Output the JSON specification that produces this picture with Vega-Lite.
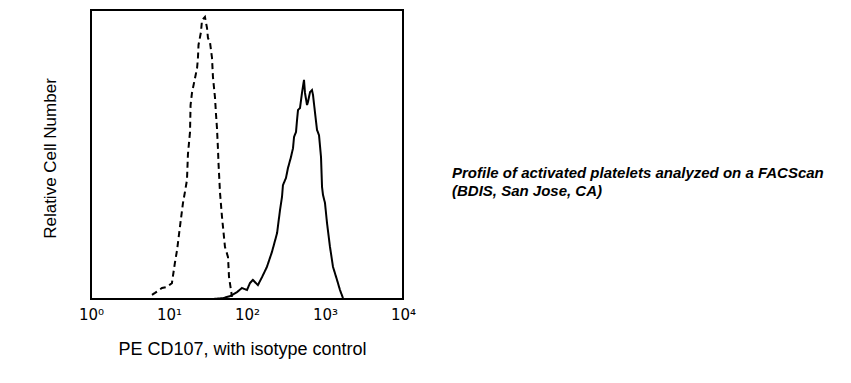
{
  "$schema": "https://vega.github.io/schema/vega-lite/v6.json",
  "width": 312,
  "height": 289,
  "autosize": "none",
  "padding": {"left": 91, "top": 10, "right": 448, "bottom": 84},
  "background": "white",
  "config": {"view": {"stroke": "black", "strokeWidth": 2}, "font": "Liberation Sans"},
  "title": {
    "text": ["Profile of activated platelets analyzed on a FACScan", "(BDIS, San Jose, CA)"],
    "anchor": "start",
    "frame": "group",
    "orient": "top",
    "font": "Liberation Sans",
    "fontSize": 15,
    "fontStyle": "italic",
    "fontWeight": "bold",
    "color": "black",
    "baseline": "top",
    "lineHeight": 18,
    "offset": 0,
    "dx": 361,
    "dy": 189
  },
  "data": {
    "values": [
      {"s": "isotype", "i": 1, "x": 6.05, "y": 1.4},
      {"s": "isotype", "i": 2, "x": 6.62, "y": 2.1},
      {"s": "isotype", "i": 3, "x": 8.13, "y": 3.8},
      {"s": "isotype", "i": 4, "x": 9.43, "y": 4.2},
      {"s": "isotype", "i": 5, "x": 10.9, "y": 5.5},
      {"s": "isotype", "i": 6, "x": 11.9, "y": 12.5},
      {"s": "isotype", "i": 7, "x": 12.7, "y": 17.0},
      {"s": "isotype", "i": 8, "x": 13.8, "y": 24.9},
      {"s": "isotype", "i": 9, "x": 15.1, "y": 33.2},
      {"s": "isotype", "i": 10, "x": 16.0, "y": 37.0},
      {"s": "isotype", "i": 11, "x": 17.0, "y": 41.2},
      {"s": "isotype", "i": 12, "x": 17.5, "y": 50.2},
      {"s": "isotype", "i": 13, "x": 18.6, "y": 57.8},
      {"s": "isotype", "i": 14, "x": 18.9, "y": 67.1},
      {"s": "isotype", "i": 15, "x": 19.7, "y": 71.3},
      {"s": "isotype", "i": 16, "x": 20.9, "y": 74.7},
      {"s": "isotype", "i": 17, "x": 22.9, "y": 79.9},
      {"s": "isotype", "i": 18, "x": 23.5, "y": 83.4},
      {"s": "isotype", "i": 19, "x": 23.9, "y": 87.9},
      {"s": "isotype", "i": 20, "x": 25.7, "y": 92.4},
      {"s": "isotype", "i": 21, "x": 26.5, "y": 96.5},
      {"s": "isotype", "i": 22, "x": 28.9, "y": 97.6},
      {"s": "isotype", "i": 23, "x": 30.7, "y": 93.8},
      {"s": "isotype", "i": 24, "x": 31.6, "y": 90.3},
      {"s": "isotype", "i": 25, "x": 33.5, "y": 88.9},
      {"s": "isotype", "i": 26, "x": 35.6, "y": 83.4},
      {"s": "isotype", "i": 27, "x": 36.6, "y": 76.8},
      {"s": "isotype", "i": 28, "x": 38.9, "y": 69.6},
      {"s": "isotype", "i": 29, "x": 40.1, "y": 63.7},
      {"s": "isotype", "i": 30, "x": 41.2, "y": 59.2},
      {"s": "isotype", "i": 31, "x": 42.5, "y": 51.6},
      {"s": "isotype", "i": 32, "x": 43.1, "y": 47.1},
      {"s": "isotype", "i": 33, "x": 45.1, "y": 36.7},
      {"s": "isotype", "i": 34, "x": 47.8, "y": 28.4},
      {"s": "isotype", "i": 35, "x": 52.2, "y": 18.0},
      {"s": "isotype", "i": 36, "x": 57.1, "y": 14.5},
      {"s": "isotype", "i": 37, "x": 58.8, "y": 7.6},
      {"s": "isotype", "i": 38, "x": 62.3, "y": 3.1},
      {"s": "isotype", "i": 39, "x": 64.2, "y": 0.7},
      {"s": "CD107", "i": 1, "x": 36.6, "y": 0},
      {"s": "CD107", "i": 2, "x": 49.2, "y": 0.3},
      {"s": "CD107", "i": 3, "x": 60.5, "y": 1.0},
      {"s": "CD107", "i": 4, "x": 74.5, "y": 2.4},
      {"s": "CD107", "i": 5, "x": 86.3, "y": 3.8},
      {"s": "CD107", "i": 6, "x": 100, "y": 3.1},
      {"s": "CD107", "i": 7, "x": 109, "y": 5.5},
      {"s": "CD107", "i": 8, "x": 119, "y": 6.6},
      {"s": "CD107", "i": 9, "x": 138, "y": 4.8},
      {"s": "CD107", "i": 10, "x": 156, "y": 7.6},
      {"s": "CD107", "i": 11, "x": 180, "y": 11.1},
      {"s": "CD107", "i": 12, "x": 209, "y": 16.3},
      {"s": "CD107", "i": 13, "x": 243, "y": 22.8},
      {"s": "CD107", "i": 14, "x": 265, "y": 30.8},
      {"s": "CD107", "i": 15, "x": 281, "y": 35.3},
      {"s": "CD107", "i": 16, "x": 289, "y": 39.4},
      {"s": "CD107", "i": 17, "x": 316, "y": 41.9},
      {"s": "CD107", "i": 18, "x": 335, "y": 45.3},
      {"s": "CD107", "i": 19, "x": 366, "y": 49.1},
      {"s": "CD107", "i": 20, "x": 389, "y": 52.2},
      {"s": "CD107", "i": 21, "x": 401, "y": 56.1},
      {"s": "CD107", "i": 22, "x": 425, "y": 57.8},
      {"s": "CD107", "i": 23, "x": 438, "y": 61.9},
      {"s": "CD107", "i": 24, "x": 451, "y": 65.4},
      {"s": "CD107", "i": 25, "x": 478, "y": 66.1},
      {"s": "CD107", "i": 26, "x": 507, "y": 71.3},
      {"s": "CD107", "i": 27, "x": 538, "y": 75.8},
      {"s": "CD107", "i": 28, "x": 554, "y": 71.3},
      {"s": "CD107", "i": 29, "x": 588, "y": 67.1},
      {"s": "CD107", "i": 30, "x": 605, "y": 68.2},
      {"s": "CD107", "i": 31, "x": 643, "y": 71.6},
      {"s": "CD107", "i": 32, "x": 681, "y": 72.3},
      {"s": "CD107", "i": 33, "x": 702, "y": 70.6},
      {"s": "CD107", "i": 34, "x": 745, "y": 64.4},
      {"s": "CD107", "i": 35, "x": 790, "y": 58.5},
      {"s": "CD107", "i": 36, "x": 838, "y": 56.7},
      {"s": "CD107", "i": 37, "x": 889, "y": 49.1},
      {"s": "CD107", "i": 38, "x": 916, "y": 38.8},
      {"s": "CD107", "i": 39, "x": 943, "y": 36.0},
      {"s": "CD107", "i": 40, "x": 1000, "y": 33.2},
      {"s": "CD107", "i": 41, "x": 1061, "y": 26.3},
      {"s": "CD107", "i": 42, "x": 1159, "y": 18.0},
      {"s": "CD107", "i": 43, "x": 1267, "y": 11.1},
      {"s": "CD107", "i": 44, "x": 1426, "y": 6.6},
      {"s": "CD107", "i": 45, "x": 1556, "y": 3.1},
      {"s": "CD107", "i": 46, "x": 1702, "y": 0.3}
    ]
  },
  "mark": {"type": "line", "color": "black", "strokeWidth": 2, "clip": true},
  "encoding": {
    "x": {
      "field": "x",
      "type": "quantitative",
      "scale": {"type": "log", "domain": [1, 10000], "nice": false},
      "axis": {
        "values": [1, 10, 100, 1000, 10000],
        "labelExpr": "datum.value == 1 ? '10⁰' : datum.value == 10 ? '10¹' : datum.value == 100 ? '10²' : datum.value == 1000 ? '10³' : '10⁴'",
        "ticks": false,
        "domain": false,
        "grid": false,
        "labelFont": "DejaVu Sans",
        "labelFontSize": 15,
        "labelColor": "black",
        "labelPadding": 8,
        "labelFlush": false,
        "labelBound": false,
        "labelOverlap": false,
        "title": "PE CD107, with isotype control",
        "titleFont": "Liberation Sans",
        "titleFontSize": 18,
        "titleFontWeight": "normal",
        "titleColor": "black",
        "titleBaseline": "alphabetic",
        "titleAlign": "center",
        "titleX": 151,
        "titleY": 55
      }
    },
    "y": {
      "field": "y",
      "type": "quantitative",
      "scale": {"domain": [0, 100], "nice": false},
      "axis": {
        "ticks": false,
        "labels": false,
        "domain": false,
        "grid": false,
        "title": "Relative Cell Number",
        "titleFont": "Liberation Sans",
        "titleFontSize": 17,
        "titleFontWeight": "normal",
        "titleColor": "black",
        "titleBaseline": "alphabetic",
        "titleAlign": "center",
        "titleAngle": 270,
        "titleX": -36,
        "titleY": 148
      }
    },
    "detail": {"field": "s"},
    "order": {"field": "i", "type": "quantitative"},
    "strokeDash": {
      "field": "s",
      "type": "nominal",
      "scale": {"domain": ["isotype", "CD107"], "range": [[6, 4], [1, 0]]},
      "legend": null
    }
  }
}
